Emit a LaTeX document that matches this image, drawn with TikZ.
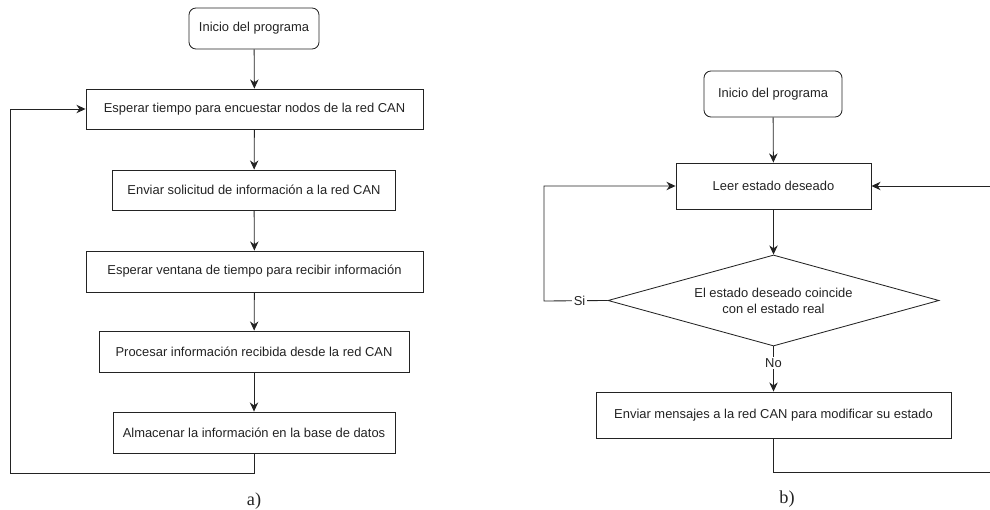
\documentclass[tikz,border=0pt]{standalone}
\usepackage{fontspec}
\setmainfont{Liberation Sans}
\newfontfamily\capfont{Liberation Serif}
\usetikzlibrary{shapes.geometric,arrows.meta}
\definecolor{linea}{RGB}{35,35,35}
\begin{document}
\begin{tikzpicture}[x=0.025cm,y=-0.025cm,
    font=\fontsize{9.2}{11.4}\selectfont,
    every node/.style={text=linea},
    caja/.style={draw=linea,line width=0.6pt,rectangle,minimum height=1cm,inner sep=0pt},
    inicio/.style={caja,rounded corners=5pt},
    decision/.style={draw=linea,line width=0.6pt,diamond,aspect=3.64,inner sep=0pt,
        minimum width=8.275cm,minimum height=2.275cm,align=center},
    flecha/.style={draw=linea,line width=0.6pt,-{Stealth[length=6.5pt,width=6pt]}},
    etiq/.style={fill=white,inner sep=1pt}]
  \useasboundingbox (0,0) rectangle (990,510);

  % a) encuesta de nodos
  \node[inicio,minimum width=3.25cm,minimum height=1.025cm] (ini1) at (254,28.5) {Inicio del programa};
  \node[caja,minimum width=8.425cm] (e1) at (254.5,109) {Esperar tiempo para encuestar nodos de la red CAN};
  \node[caja,minimum width=7.075cm] (e2) at (254,190) {Enviar solicitud de información a la red CAN};
  \node[caja,minimum width=8.425cm,minimum height=1.025cm] (e3) at (254.5,271.5) {Esperar ventana de tiempo para recibir información};
  \node[caja,minimum width=7.75cm,minimum height=1.025cm] (e4) at (254,351.5) {Procesar información recibida desde la red CAN};
  \node[caja,minimum width=7.05cm,minimum height=1.025cm] (e5) at (254,432.5) {Almacenar la información en la base de datos};

  \draw[flecha] (ini1) -- (e1);
  \draw[flecha] (e1) -- (e2);
  \draw[flecha] (e2) -- (e3);
  \draw[flecha] (e3) -- (e4);
  \draw[flecha] (e4) -- (e5);
  \coordinate (ra) at (10,473);
  \draw[flecha] (e5.south) |- (ra) |- (e1.west);

  \node[font=\capfont\fontsize{13}{15}\selectfont] (capa) at (254,501) {a)};

  % b) control de estado
  \node[inicio,minimum width=3.45cm,minimum height=1.15cm] (ini2) at (773,94) {Inicio del programa};
  \node[caja,minimum width=4.875cm,minimum height=1.15cm] (leer) at (773.5,186) {Leer estado deseado};
  \node[decision] (dec) at (773.5,300.5) {El estado deseado coincide\\con el estado real};
  \node[caja,minimum width=8.875cm,minimum height=1.15cm] (env) at (773.5,415) {Enviar mensajes a la red CAN para modificar su estado};

  \draw[flecha] (ini2) -- (leer);
  \draw[flecha] (leer) -- (dec);
  \draw[flecha] (dec) -- node[etiq,pos=0.37] (no) {No} (env);
  \coordinate (rc) at (544,301);
  \draw[flecha] (dec.west) -- node[etiq,pos=0.44] (si) {Si} (rc) |- (leer.west);
  \coordinate (rb) at (993,472);
  \draw[flecha] (env.south) |- (rb) |- (leer.east);

  \node[font=\capfont\fontsize{13}{15}\selectfont] (capb) at (787,499) {b)};
\end{tikzpicture}
\end{document}
